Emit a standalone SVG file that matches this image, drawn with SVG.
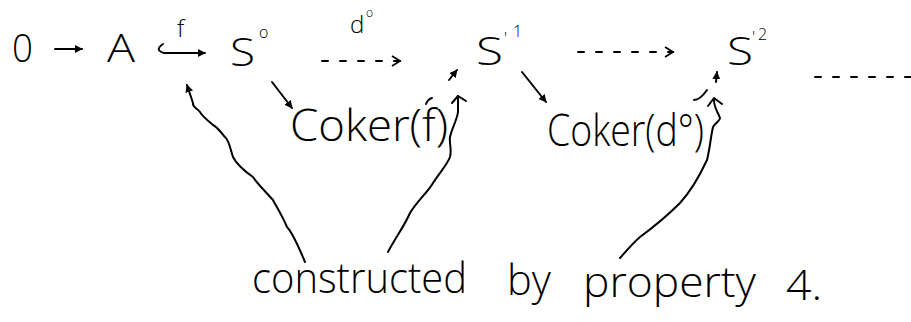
<svg xmlns="http://www.w3.org/2000/svg" width="911" height="322" viewBox="0 0 911 322">
<style>
  text { font-family: "Open Sans", "Liberation Sans", sans-serif; font-weight: 300; fill: #000; }
  .big { font-size: 38px; }
  .sup { font-size: 16px; }
  .lbl { font-size: 24px; }
  .cok { font-size: 44px; }
  .note { font-size: 42px; }
  .ln { fill: none; stroke: #000; stroke-width: 2; stroke-linecap: round; stroke-linejoin: round; }
  .dash { stroke-dasharray: 6 12; }
</style>
<defs>
  <marker id="ah" viewBox="0 0 10 10" refX="9" refY="5" markerWidth="8" markerHeight="8" markerUnits="userSpaceOnUse" orient="auto">
    <path d="M0,0 L10,5 L0,10 z" fill="#000"/>
  </marker>
  <marker id="oh" viewBox="0 0 12 12" refX="10" refY="6" markerWidth="12" markerHeight="12" markerUnits="userSpaceOnUse" orient="auto">
    <path d="M2,1 L10,6 L2,11" fill="none" stroke="#000" stroke-width="1.8"/>
  </marker>
</defs>
<rect width="911" height="322" fill="#fff"/>

<g id="node-zero"><text class="big" x="12" y="62" textLength="21" lengthAdjust="spacingAndGlyphs">0</text></g>
<g id="node-A"><text class="big" x="107" y="62" textLength="28" lengthAdjust="spacingAndGlyphs">A</text></g>
<g id="node-S0"><text class="big" x="230" y="66" textLength="25" lengthAdjust="spacingAndGlyphs">S</text><text class="sup" x="259" y="38">o</text></g>
<g id="node-S1"><text class="big" x="476" y="65" textLength="27" lengthAdjust="spacingAndGlyphs">S</text><text class="sup" x="504" y="44">'</text><text class="sup" x="513" y="37">1</text></g>
<g id="node-S2"><text class="big" x="727" y="65" textLength="26" lengthAdjust="spacingAndGlyphs">S</text><text class="sup" x="752" y="43">'</text><text class="sup" x="758" y="40">2</text></g>
<g id="node-cokerf"><text class="cok" x="290" y="141" textLength="158" lengthAdjust="spacingAndGlyphs">Coker(f)</text></g>
<g id="node-cokerd"><text class="cok" x="547" y="146" textLength="157" lengthAdjust="spacingAndGlyphs">Coker(d°)</text></g>
<g id="node-note">
  <text class="note" x="252" y="293" textLength="215" lengthAdjust="spacingAndGlyphs">constructed</text>
  <text class="note" x="507" y="295" textLength="44" lengthAdjust="spacingAndGlyphs">by</text>
  <text class="note" x="583" y="297" textLength="173" lengthAdjust="spacingAndGlyphs">property</text>
  <text class="note" x="786" y="300" textLength="36" lengthAdjust="spacingAndGlyphs">4.</text>
</g>

<g id="connectors">
  <path class="ln" d="M55,49 L82,49" marker-end="url(#ah)"/>
  <path class="ln" d="M163,44 Q154,50 164,53 L205,53" marker-end="url(#ah)"/>
  <text class="lbl" x="177" y="37">f</text>
  <path class="ln dash" d="M322,61 L400,61" marker-end="url(#oh)"/>
  <text class="lbl" x="350" y="33">d</text><text class="sup" x="366" y="17" style="font-size:12px">o</text>
  <path class="ln dash" d="M578,52 L673,52" marker-end="url(#oh)"/>
  <path class="ln dash" d="M815,77 L911,77"/>
  <path class="ln" d="M272,82 L292,108" marker-end="url(#ah)"/>
  <path class="ln" d="M522,72 L546,102" marker-end="url(#ah)"/>
  <path class="ln" d="M305,262 C300,250 292,232 287,227 C282,215 276,206 273,200 C264,190 256,182 253,177 C243,170 236,163 233,157 C230,148 229,140 225,137 C219,130 217,127 213,125 C207,120 201,115 200,112 C197,108 192,107 193,103 L187,85" marker-end="url(#ah)"/>
  <path class="ln" d="M388,252 C394,240 405,225 410,213 C418,200 428,192 433,183 C440,172 447,165 450,157 C452,150 449,142 450,137 C452,128 457,120 458,112 L458,96"/>
  <path class="ln" d="M452,103 L458,96 L466,101"/>
  <path class="ln" d="M620,258 C627,250 634,242 640,237 C655,226 668,215 680,203 C692,190 700,175 707,160 C710,148 711,135 713,127 C716,122 720,121 720,118 C718,112 714,108 714,100"/>
  <path class="ln" d="M708,106 L714,98 L722,104"/>
  <path class="ln" d="M426,104 Q428,99 432,98"/>
  <path class="ln" d="M449,80 L457,70" marker-end="url(#ah)"/>
  <path class="ln" d="M694,100 Q700,100 707,90"/>
  <path class="ln" d="M716,82 L717,72" marker-end="url(#ah)"/>
</g>
</svg>
